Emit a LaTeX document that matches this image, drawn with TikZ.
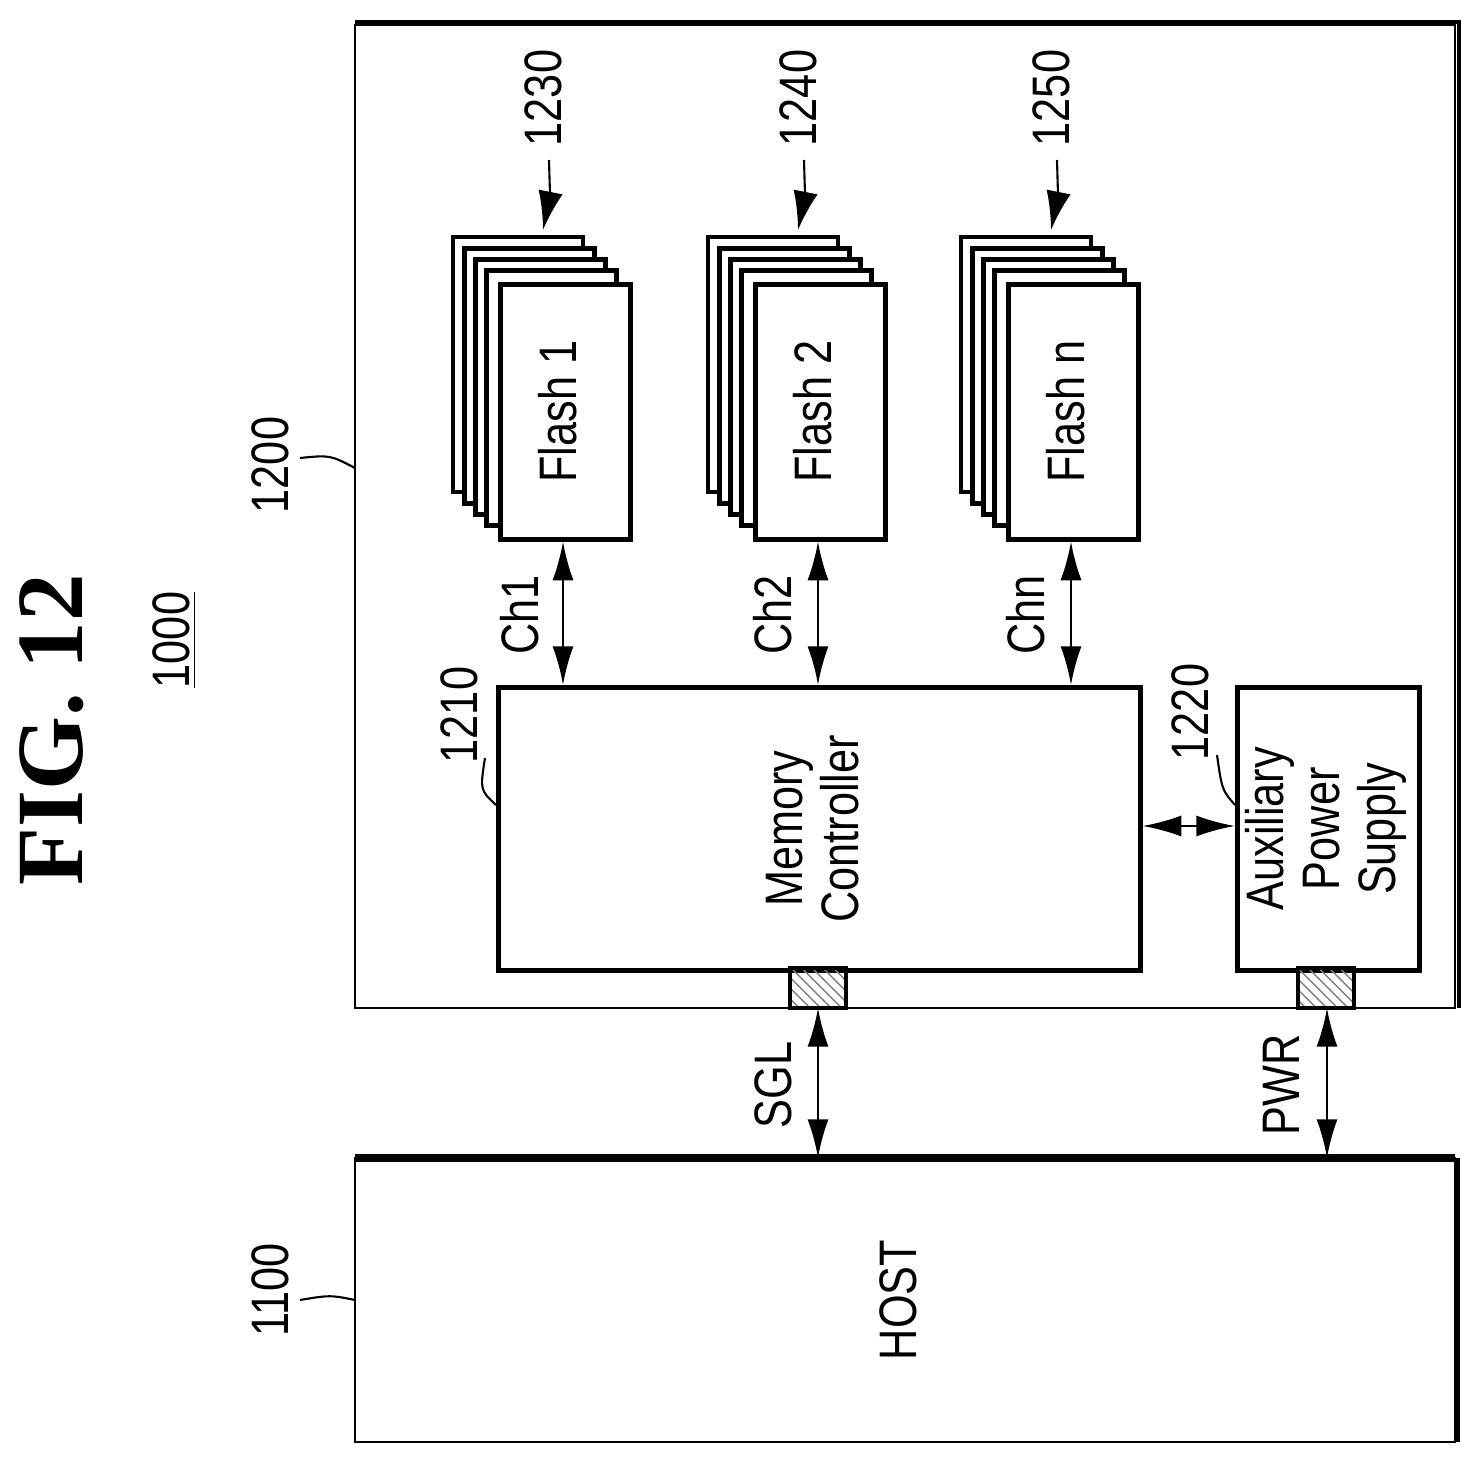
\documentclass[tikz,border=0pt]{standalone}
\usepackage{fontspec}
\setmainfont{Liberation Sans}
\newfontfamily\figfont{Liberation Serif}
\usetikzlibrary{patterns,arrows.meta}
\newcommand{\nt}[1]{\scalebox{0.82}[1]{\begin{tabular}{@{}c@{}}#1\end{tabular}}}
\begin{document}
\begin{tikzpicture}[x=0.01cm,y=-0.01cm,
  box/.style={draw,line width=1.3pt,fill=white},
  lbl/.style={rotate=90,font=\fontsize{15}{16}\selectfont,inner sep=0pt},
  arr/.style={line width=0.7pt,{Latex[length=11pt,width=6pt]}-{Latex[length=11pt,width=6pt]}},
  lead/.style={line width=0.6pt},
  pad/.style={draw,line width=1.3pt,pattern=north west lines,pattern color=gray}]
\useasboundingbox (0,0) rectangle (1484,1464);
% title
\node[rotate=90,font=\figfont\bfseries\fontsize{27}{30}\selectfont,inner sep=0pt] (fig) at (52,730) {FIG. 12};
\node[lbl] (sys) at (178,640) {\nt{\underline{1000}}};
% outer box
\draw[line width=0.8pt] (355,25) rectangle (1455,1008);
\draw[line width=1.2pt] (355,22) -- (1459,22) -- (1459,1008);
% host
\draw[line width=0.8pt] (355,1158) rectangle (1455,1442);
\draw[line width=2pt] (355,1158) -- (1455,1158);
\draw[line width=1.2pt] (1458,1158) -- (1458,1442);
\node[lbl] (host) at (905,1300) {\nt{HOST}};
% flash stacks
\foreach \x/\t/\n in {498/1/1230,753/2/1240,1006/n/1250}{
  \foreach \k in {4,3,2,1}{
    \draw[box] (\x-\k*11.25,282-\k*11.25) rectangle ++(130,255);
  }
  \node[box,minimum width=130*0.01cm,minimum height=255*0.01cm,anchor=north west,inner sep=0pt] (f\t) at (\x,282) {};
  \node[lbl] at (f\t.center) {\nt{Flash \t}};
  \node[lbl] (r\t) at (\x+52,98) {\nt{\n}};
  \draw[lead,-{Latex[length=11pt,width=7pt]}] (\x+51,160) .. controls (\x+52,195) .. (\x+45,230);
}
% memory controller
\node[box,minimum width=642*0.01cm,minimum height=283*0.01cm,anchor=north west,inner sep=0pt] (mc) at (496,685) {};
\node[lbl] at (mc.center) {\nt{Memory\\Controller}};
\node[box,minimum width=182*0.01cm,minimum height=283*0.01cm,anchor=north west,inner sep=0pt] (aps) at (1235,685) {};
\node[lbl] at (aps.center) {\nt{Auxiliary\\Power\\Supply}};
% channels
\draw[arr] (f1.south -| 563,0) -- (mc.north -| 563,0);
\draw[arr] (f2.south -| 818,0) -- (mc.north -| 818,0);
\draw[arr] (fn.south -| 1071,0) -- (mc.north -| 1071,0);
\node[lbl] at (527,615) {\nt{Ch1}};
\node[lbl] at (780,615) {\nt{Ch2}};
\node[lbl] at (1033,615) {\nt{Chn}};
\draw[arr] (mc.east |- 0,826) -- (aps.west |- 0,826);
% pads
\draw[pad] (790,968) rectangle (846,1008);
\draw[pad] (1298,968) rectangle (1354,1008);
\draw[arr] (818,1008) -- (818,1158);
\draw[arr] (1327,1008) -- (1327,1158);
\node[lbl] at (780,1085) {\nt{SGL}};
\node[lbl] at (1288,1085) {\nt{PWR}};
% reference labels
\node[lbl] (l1210) at (466,715) {\nt{1210}};
\draw[lead] (485,758) .. controls (480,790) .. (496,805);
\node[lbl] (l1220) at (1197,712) {\nt{1220}};
\draw[lead] (1217,755) .. controls (1222,790) .. (1235,805);
\node[lbl] (l1200) at (277,465) {\nt{1200}};
\draw[lead] (300,458) .. controls (330,455) .. (355,468);
\node[lbl] (l1100) at (277,1290) {\nt{1100}};
\draw[lead] (300,1300) .. controls (330,1295) .. (355,1300);
\end{tikzpicture}
\end{document}
